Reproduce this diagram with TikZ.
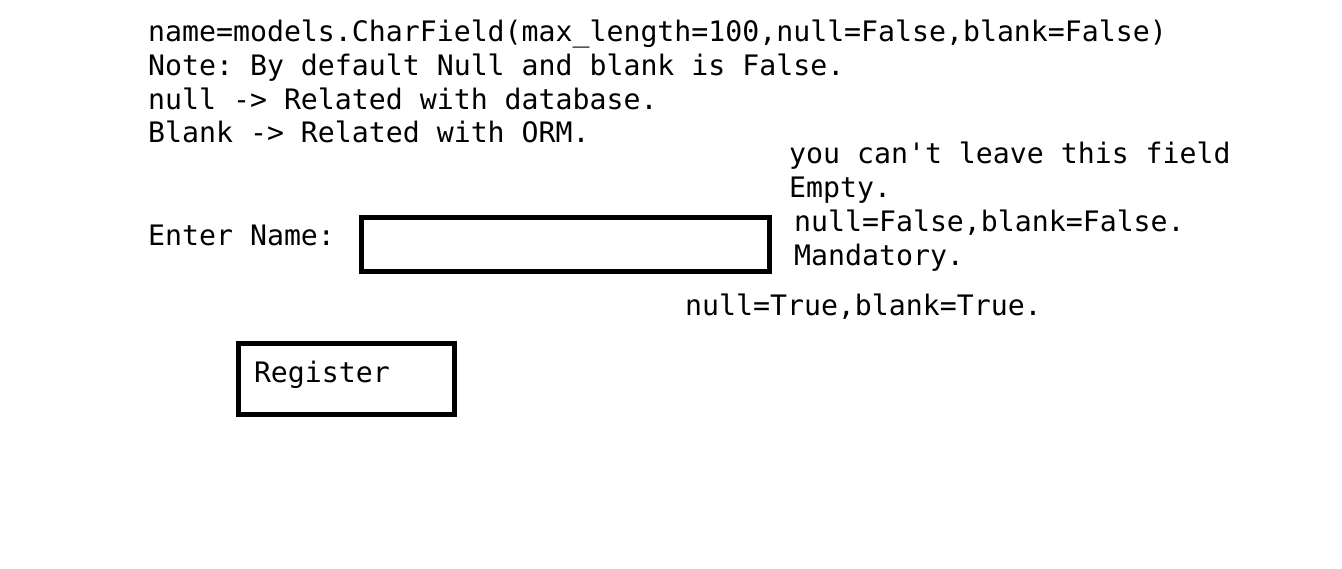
\documentclass[tikz,border=0pt]{standalone}
\usepackage{fontspec}
\setmonofont{DejaVu Sans Mono}
\usetikzlibrary{positioning}

\begin{document}
\begin{tikzpicture}[x=1pt,y=-1pt,font=\ttfamily\fontsize{28.2}{34}\selectfont,txt/.style={anchor=base west,inner sep=0pt},field/.style={draw,line width=5pt,inner sep=0pt}]
\fill[white] (0,0) rectangle (1342,569);
\useasboundingbox (0,0) rectangle (1342,569);
\node[txt] (m) at (148,42) {name=models.CharField(max\_length=100,null=False,blank=False)};
\node[txt] (n) at (148,76) {Note: By default Null and blank is False.};
\node[txt] (d) at (148,110) {null -> Related with database.};
\node[txt] (o) at (148,143) {Blank -> Related with ORM.};
\node[txt] (y) at (789,164) {you can't leave this field};
\node[txt] (e) at (789,198) {Empty.};
\node[txt] (f) at (794,232) {null=False,blank=False.};
\node[txt] (k) at (794,266) {Mandatory.};
\node[txt] (l) at (148,246) {Enter Name:};
\node[field,minimum width=408pt,minimum height=54pt] (i) at (565.5,244.5) {};
\node[txt] (t) at (685,316) {null=True,blank=True.};
\node[field,anchor=north west,inner xsep=15.5pt,text width=185pt,align=left,minimum height=71pt,text height=20pt,text depth=12pt] (r) at (236,341) {Register};
\end{tikzpicture}
\end{document}
